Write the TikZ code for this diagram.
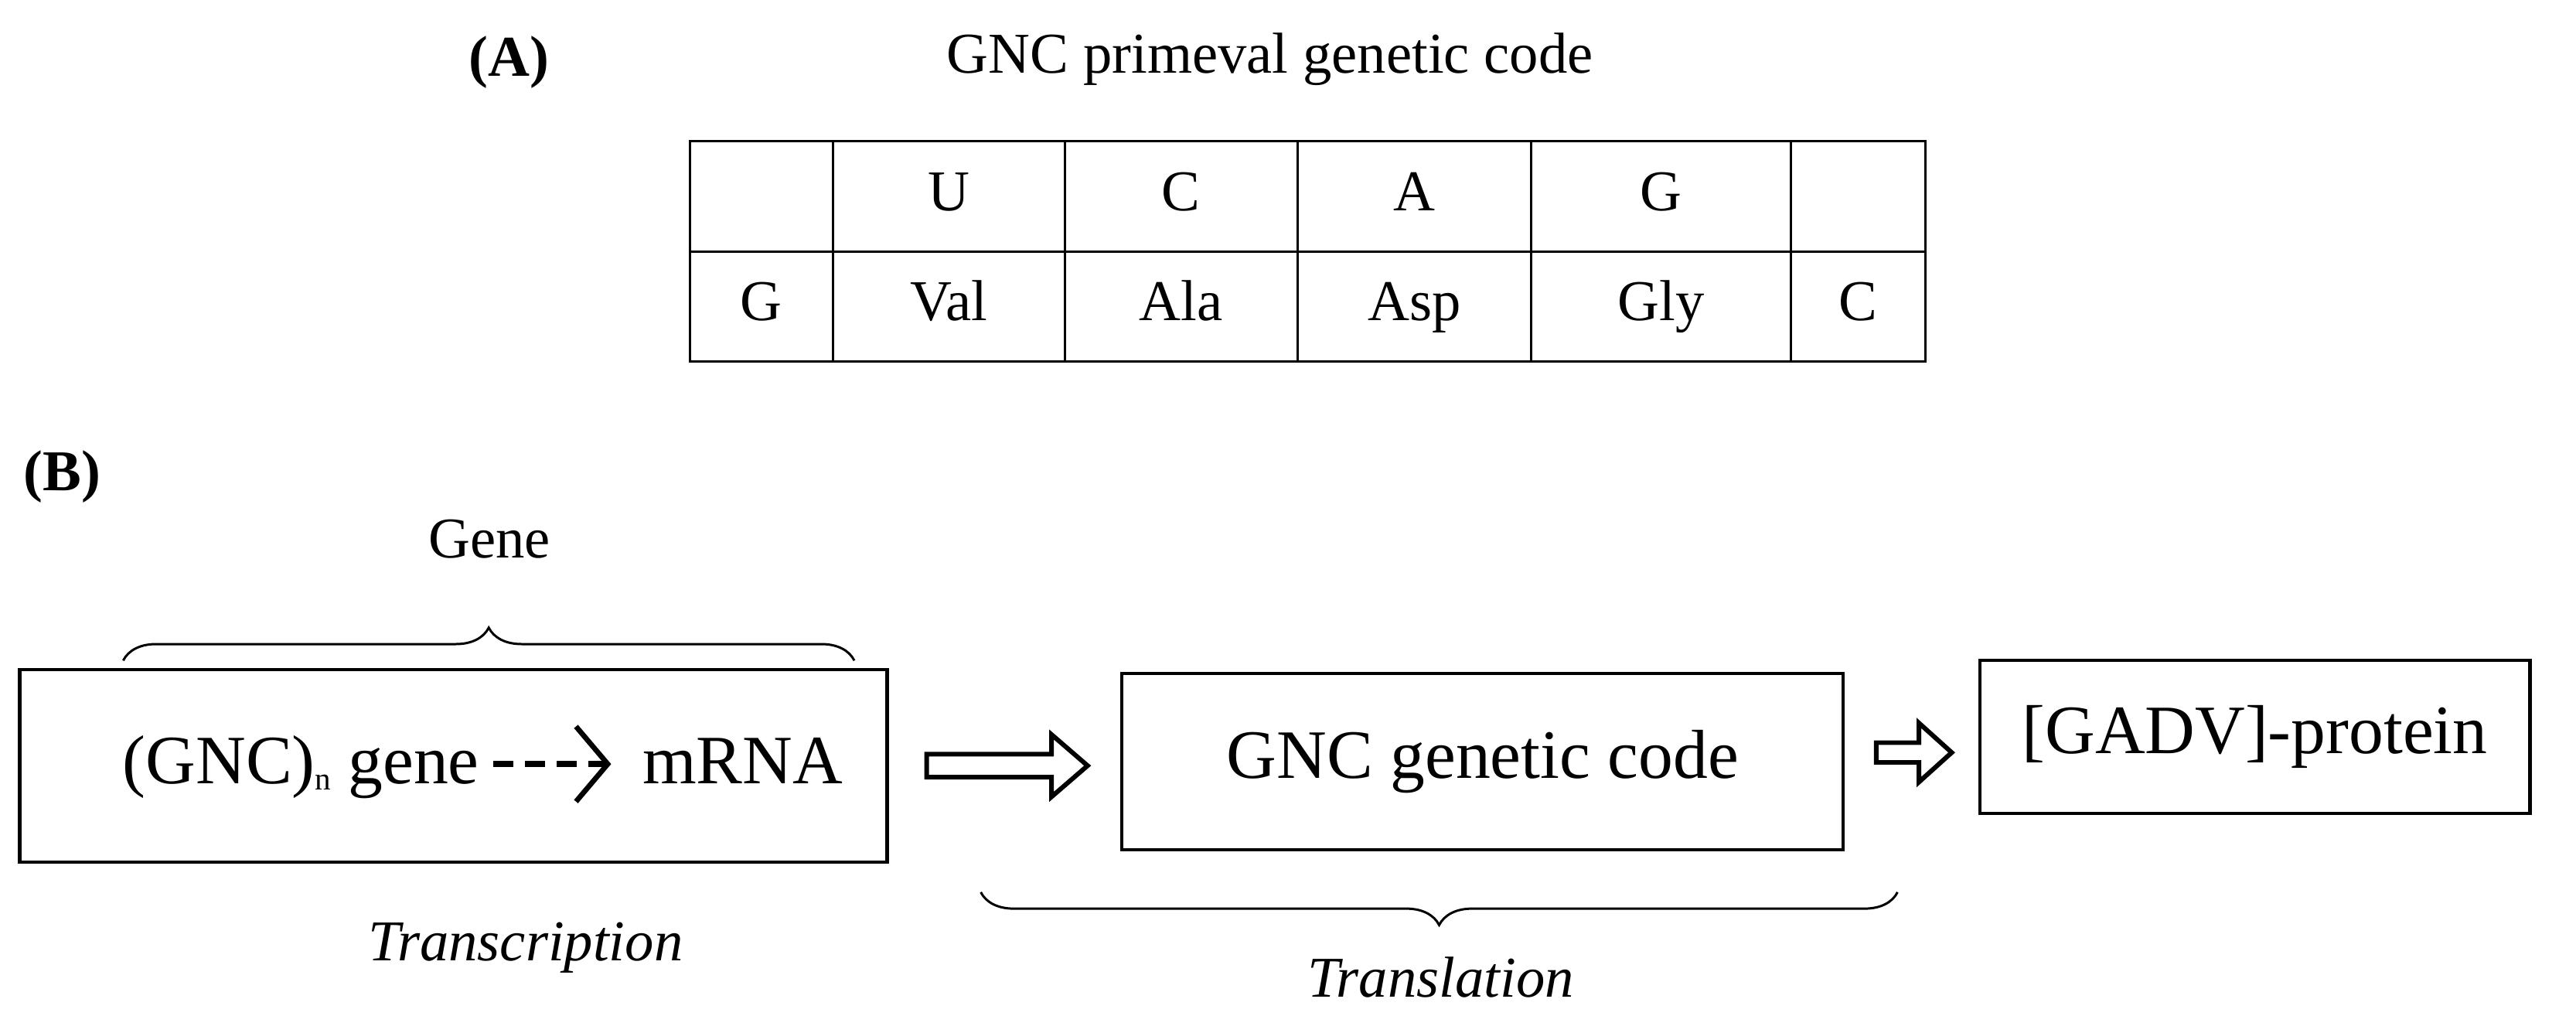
\documentclass[tikz,border=0pt]{standalone}
\usepackage{fontspec}
\setmainfont{Liberation Serif}
\usetikzlibrary{decorations.pathreplacing,arrows.meta}
\begin{document}
\begin{tikzpicture}[x=0.02cm,y=-0.02cm,
  cell/.style={draw,line width=0.8pt,minimum height=67*0.02cm,inner sep=0,text height=14pt,text depth=4pt,font=\fontsize{20}{24}\selectfont},
  lbl/.style={font=\fontsize{20}{24}\selectfont},
  box/.style={draw,line width=1.1pt,inner sep=0},
  btxt/.style={font=\fontsize{24}{28}\selectfont,inner sep=0},
  brc/.style={decorate,decoration={brace,amplitude=0.4cm},line width=0.8pt},
  hollow/.style={draw,line width=1.6pt,fill=white}]
\useasboundingbox (0,0) rectangle (1568,618);
\node[lbl,font=\fontsize{20}{24}\selectfont\bfseries] (A) at (310,38) {(A)};
\node[lbl] (title) at (773,36) {GNC primeval genetic code};
% table
\foreach \n/\a/\b/\t/\s in {c1/420/507//G,c2/507/648/U/Val,c3/648/790/C/Ala,c4/790/932/A/Asp,c5/932/1090/G/Gly,c6/1090/1172//C}{
  \node[cell,minimum width=(\b-\a)*0.02cm] (\n t) at ({(\a+\b)/2},{119.5}) {\t};
  \node[cell,minimum width=(\b-\a)*0.02cm] (\n b) at ({(\a+\b)/2},{186.5}) {\s};
}
\node[lbl,font=\fontsize{20}{24}\selectfont\bfseries] (B) at (38,290) {(B)};
\node[lbl] (gene) at (298,328) {Gene};
\coordinate (g1) at (75,402); \coordinate (g2) at (520,402);
\draw[brc] (g1) -- (g2);
% box 1
\node[box,minimum width=528*0.02cm,minimum height=117*0.02cm] (b1) at (276,466) {};
\node[btxt,anchor=base east] (gt) at (292,477) {(GNC)\raisebox{-0.2ex}{\fontsize{11}{12}\selectfont n} gene};
\node[btxt,anchor=base] (mr) at (452,477) {mRNA};
\coordinate (d1) at (300,465); \coordinate (d2) at (372,465);
\draw[line width=2.2pt,dash pattern=on 7pt off 4pt,-{Straight Barb[length=11pt,width=26pt,line width=1.8pt]}] (d1) -- (d2);
\node[lbl,font=\fontsize{20}{24}\selectfont\itshape] (tr) at (320,577) {Transcription};
% arrow 1
\draw[hollow] (564,459) -- (640,459) -- (640,447) -- (662,466) -- (640,485) -- (640,473) -- (564,473) -- cycle;
% box 2
\node[box,minimum width=439*0.02cm,minimum height=107*0.02cm] (b2) at (902.5,463.5) {};
\node[btxt] (gc) at (b2) {GNC genetic code};
% arrow 2
\draw[hollow] (1142,452) -- (1168,452) -- (1168,440) -- (1188,458) -- (1168,476) -- (1168,464) -- (1142,464) -- cycle;
% box 3
\node[box,minimum width=335*0.02cm,minimum height=93*0.02cm] (b3) at (1372.5,448.5) {};
\node[btxt] (gp) at (b3) {[GADV]-protein};
\coordinate (t1) at (597,543); \coordinate (t2) at (1155,543);
\draw[brc] (t2) -- (t1);
\node[lbl,font=\fontsize{20}{24}\selectfont\itshape] (tl) at (877,595) {Translation};
\end{tikzpicture}
\end{document}
